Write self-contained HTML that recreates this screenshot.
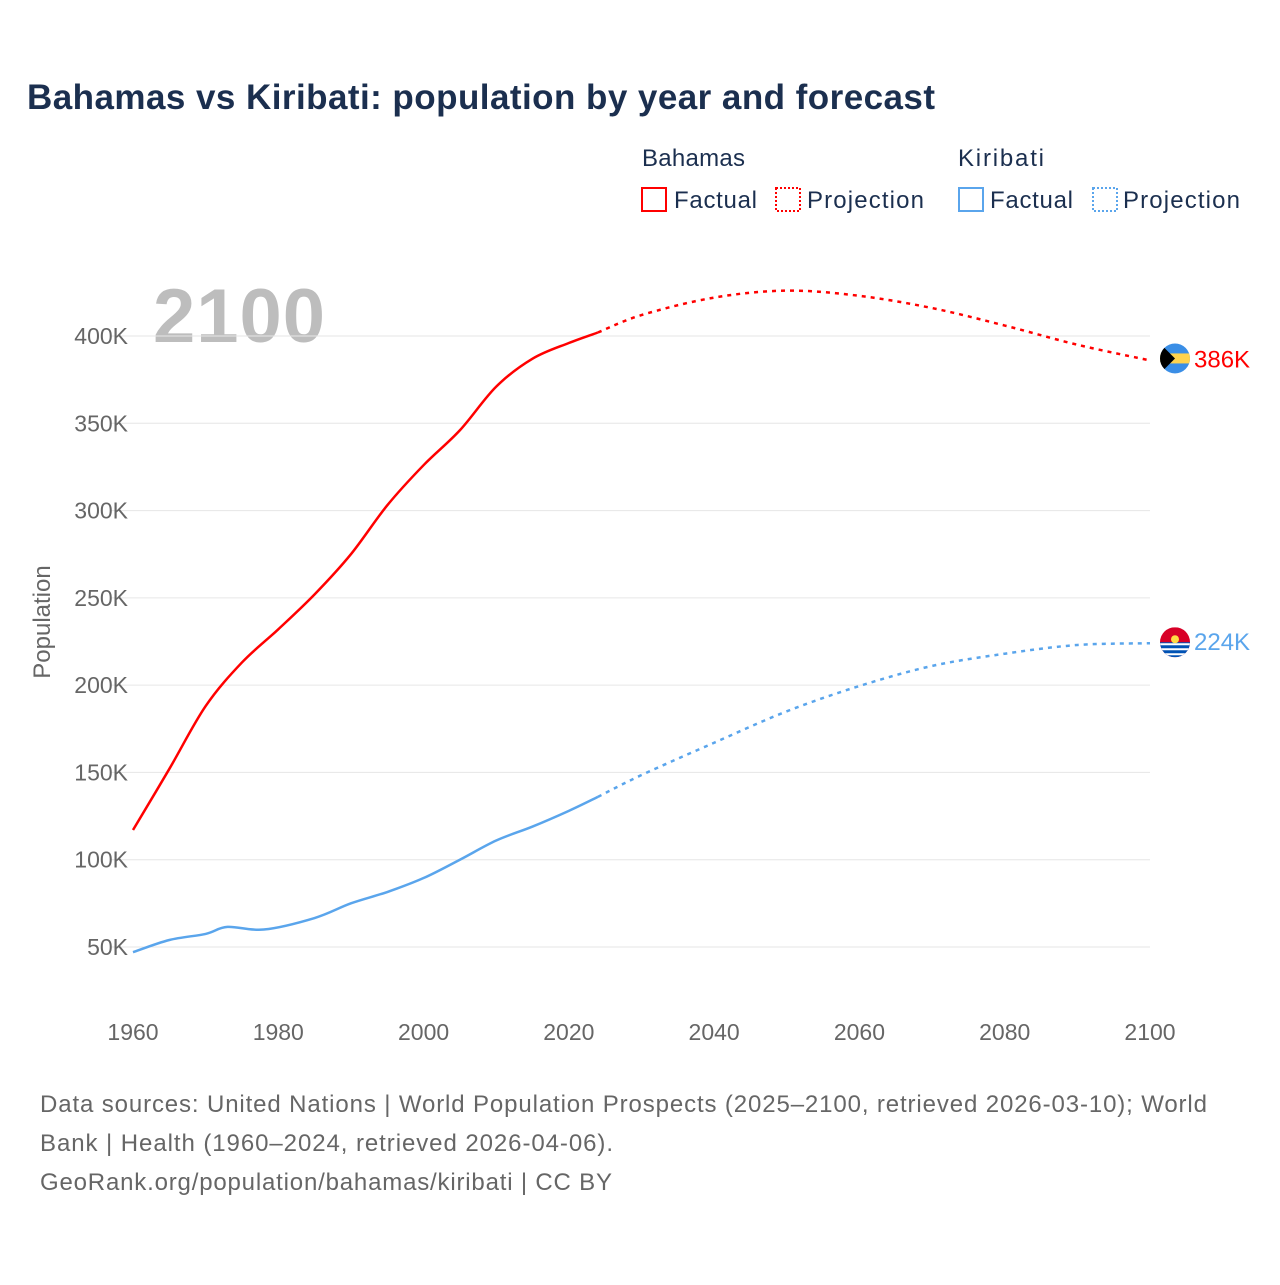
<!DOCTYPE html>
<html><head><meta charset="utf-8"><style>
body{margin:0;background:#fff;font-family:"Liberation Sans",sans-serif}
svg text{font-family:"Liberation Sans",sans-serif}
</style></head><body>
<svg id="chart" width="1280" height="1280" viewBox="0 0 1280 1280">
<text x="27" y="109" font-size="35" font-weight="bold" fill="#1b2f4f" textLength="908">Bahamas vs Kiribati: population by year and forecast</text>
<g font-size="24" fill="#1b2f4f">
<text x="642" y="166" textLength="103">Bahamas</text>
<text x="958" y="166" textLength="86">Kiribati</text>
<rect x="642" y="188" width="24" height="23" fill="none" stroke="#ff0000" stroke-width="2"/>
<text x="674" y="208" textLength="83">Factual</text>
<rect x="776" y="188" width="24" height="23" fill="none" stroke="#ff0000" stroke-width="2" stroke-dasharray="2,2"/>
<text x="807" y="208" textLength="117">Projection</text>
<rect x="959" y="188" width="24" height="23" fill="none" stroke="#5aa5ec" stroke-width="2"/>
<text x="990" y="208" textLength="83">Factual</text>
<rect x="1093" y="188" width="24" height="23" fill="none" stroke="#5aa5ec" stroke-width="2" stroke-dasharray="2,2"/>
<text x="1123" y="208" textLength="117">Projection</text>
</g>
<text x="153" y="342" font-size="76" font-weight="bold" fill="#bdbdbd" textLength="172">2100</text>
<text transform="translate(50,622) rotate(-90)" text-anchor="middle" font-size="24" fill="#666">Population</text>
<g id="grid"></g><g id="series"></g>
<g font-size="24" fill="#666">
<text x="40" y="1112" textLength="1167">Data sources: United Nations | World Population Prospects (2025–2100, retrieved 2026-03-10); World</text>
<text x="40" y="1151" textLength="573">Bank | Health (1960–2024, retrieved 2026-04-06).</text>
<text x="40" y="1190" textLength="572">GeoRank.org/population/bahamas/kiribati | CC BY</text>
</g>
</svg>
<script>
const years=[1960,1965,1970,1975,1980,1985,1990,1995,2000,2005,2010,2015,2020,2024,2030,2040,2050,2060,2070,2080,2090,2100];
const bahamas=[117,152,188,213,232,252,275,303,326,346,371,387,396,402,412,422,426,423,416,406,395,386];
const kyears=[1960,1965,1970,1973,1978,1985,1990,1995,2000,2005,2010,2015,2020,2024,2030,2040,2050,2060,2070,2080,2090,2100];
const kiribati=[47,54,57.5,61.5,60,66.6,75,81.5,89.5,100,111,119,128,136,148.5,167,185,199.5,211,218,223,224];
const yTicks=[50,100,150,200,250,300,350,400];
const xTicks=[1960,1980,2000,2020,2040,2060,2080,2100];
const projStart=2024;
const NS="http://www.w3.org/2000/svg";
const X=y=>133+(y-1960)*(1017/140);
const Y=v=>947-(v-50)*(611/350);
const grid=document.getElementById('grid'),ser=document.getElementById('series');
function mk(t,a,p){const e=document.createElementNS(NS,t);for(const k in a)e.setAttribute(k,a[k]);p.appendChild(e);return e;}
yTicks.forEach(v=>{
 const l=mk('line',{x1:110,x2:1150,y1:Y(v),y2:Y(v),stroke:'#e6e6e6','stroke-width':1},grid);
 
 
 const t=mk('text',{x:128,y:Y(v)+8,'text-anchor':'end','font-size':23,fill:'#666'},grid);t.textContent=v+'K';
 
 
});
xTicks.forEach(y=>{
 const t=mk('text',{x:X(y),y:1040,'text-anchor':'middle','font-size':23,fill:'#666'},grid);t.textContent=y;
 
 
});
function path(pts){let d='M'+pts[0][0]+','+pts[0][1];
 for(let i=0;i<pts.length-1;i++){const p0=pts[i-1]||pts[i],p1=pts[i],p2=pts[i+1],p3=pts[i+2]||p2;
 d+=' C'+(p1[0]+(p2[0]-p0[0])/6)+','+(p1[1]+(p2[1]-p0[1])/6)+' '+(p2[0]-(p3[0]-p1[0])/6)+','+(p2[1]-(p3[1]-p1[1])/6)+' '+p2[0]+','+p2[1];}
 return d;}
function draw(ys,vs,color,name){
 const pts=ys.map((y,i)=>[X(y),Y(vs[i])]);
 const k=ys.indexOf(projStart);
 const a=mk('path',{d:path(pts.slice(0,k+1)),fill:'none',stroke:color,'stroke-width':2.5},ser);
 
 
 const b=mk('path',{d:path(pts.slice(k)),fill:'none',stroke:color,'stroke-width':2.5,'stroke-dasharray':'4,5'},ser);
 
 
 const last=pts[pts.length-1];
 const t=mk('text',{x:1194,y:last[1]+7,'font-size':24,fill:color},ser);t.textContent=vs[vs.length-1]+'K';
 
 
 return last;
}
const bl=draw(years,bahamas,'#ff0000','bahamas');
const kl=draw(kyears,kiribati,'#5aa5ec','kiribati');
let g=mk('g',{transform:'translate(1175,'+(bl[1]-2)+')'},ser);


g.innerHTML='<clipPath id="cb"><circle r="15"/></clipPath><g clip-path="url(#cb)"><rect x="-15" y="-15" width="30" height="30" fill="#3a8ee6"/><rect x="-15" y="-5" width="30" height="10" fill="#ffd34d"/><polygon points="-15,-15 0,0 -15,15" fill="#000"/></g>';
g=mk('g',{transform:'translate(1175,'+(kl[1]-1)+')'},ser);


g.innerHTML='<clipPath id="ck"><circle r="15"/></clipPath><g clip-path="url(#ck)"><rect x="-15" y="-15" width="30" height="30" fill="#d80027"/><rect x="-15" y="0" width="30" height="15" fill="#0052b4"/><circle cx="0" cy="-3" r="4" fill="#ffda44"/><path d="M-15 2h30M-15 7h30M-15 12h30" stroke="#fff" stroke-width="2"/></g>';
</script>
</body></html>
